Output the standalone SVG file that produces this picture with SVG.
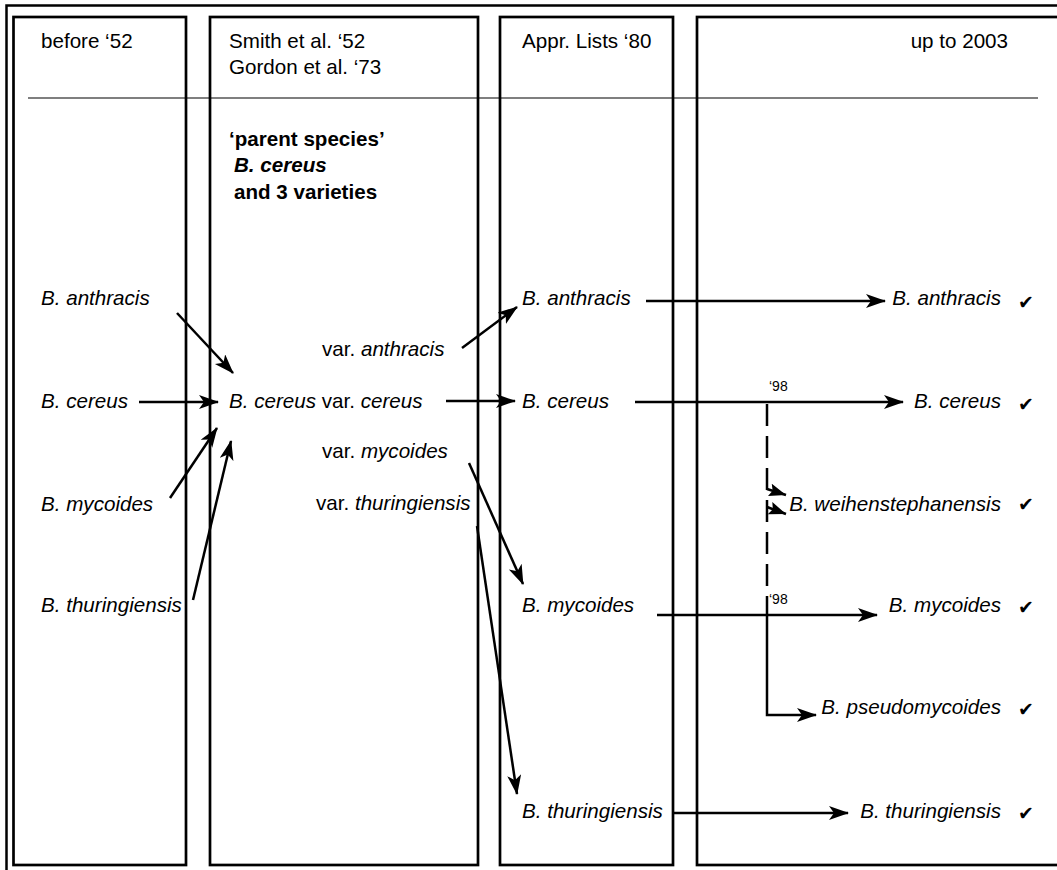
<svg xmlns="http://www.w3.org/2000/svg" width="1057" height="870" viewBox="0 0 1057 870">
<style>
text{font-family:"Liberation Sans",Arial,sans-serif;font-size:20.6px;fill:#000}
.i{font-style:italic}
.b{font-weight:bold}
.sm{font-size:14px}
.ck{font-family:"DejaVu Sans",sans-serif;font-size:19px}
.col{fill:none;stroke:#000;stroke-width:2.7}
.ln{fill:none;stroke:#000;stroke-width:2.5}
</style>
<defs>
<marker id="ah" markerUnits="userSpaceOnUse" markerWidth="21" markerHeight="15" refX="19" refY="7" orient="auto" viewBox="0 0 21 15">
<path d="M0,0 L20,7 L0,14 L5,7 z" fill="#000"/>
</marker>
<marker id="ahs" markerUnits="userSpaceOnUse" markerWidth="18" markerHeight="14" refX="17" refY="6.5" orient="auto" viewBox="0 0 18 14">
<path d="M0,0 L17,6.5 L0,13 L3,6.5 z" fill="#000"/>
</marker>
</defs>
<rect width="1057" height="870" fill="#fff"/>
<g id="frame">
<path d="M6.5,872 V5.5 H1060" fill="none" stroke="#000" stroke-width="2.5"/>
<rect class="col" x="13.5" y="17" width="172.5" height="848"/>
<rect class="col" x="210" y="17" width="268" height="848"/>
<rect class="col" x="500" y="17" width="173" height="848"/>
<rect class="col" x="697" y="17" width="400" height="848"/>
<line x1="28" y1="98" x2="1038" y2="98" stroke="#000" stroke-width="1.2"/>
</g>
<g id="headers">
<text x="41" y="48">before ‘52</text>
<text x="229" y="48">Smith et al. ‘52</text>
<text x="229" y="74">Gordon et al. ‘73</text>
<text x="522" y="48">Appr. Lists ‘80</text>
<text x="1008" y="48" text-anchor="end">up to 2003</text>
</g>
<g id="parent">
<text class="b" x="229" y="146">‘parent species’</text>
<text class="b i" x="234" y="172">B. cereus</text>
<text class="b" x="234" y="199">and 3 varieties</text>
</g>
<g id="col1">
<text id="l-anthracis" class="i" x="41" y="305">B. anthracis</text>
<text id="l-cereus" class="i" x="41" y="408">B. cereus</text>
<text id="l-mycoides" class="i" x="41" y="511">B. mycoides</text>
<text id="l-thuringiensis" class="i" x="41" y="612">B. thuringiensis</text>
</g>
<g id="col2">
<text id="m-cereus" x="229" y="408"><tspan class="i">B. cereus</tspan> var. <tspan class="i">cereus</tspan></text>
<text id="m-anthracis" x="322" y="356">var. <tspan class="i">anthracis</tspan></text>
<text id="m-mycoides" x="322" y="458">var. <tspan class="i">mycoides</tspan></text>
<text id="m-thuringiensis" x="316" y="510">var. <tspan class="i">thuringiensis</tspan></text>
</g>
<g id="col3">
<text id="a-anthracis" class="i" x="522" y="305">B. anthracis</text>
<text id="a-cereus" class="i" x="522" y="408">B. cereus</text>
<text id="a-mycoides" class="i" x="522" y="612">B. mycoides</text>
<text id="a-thuringiensis" class="i" x="522" y="818">B. thuringiensis</text>
</g>
<g id="col4">
<text id="n-anthracis" class="i" x="1001" y="305" text-anchor="end">B. anthracis</text>
<text id="n-cereus" class="i" x="1001" y="408" text-anchor="end">B. cereus</text>
<text id="n-weihen" class="i" x="1001" y="511" text-anchor="end">B. weihenstephanensis</text>
<text id="n-mycoides" class="i" x="1001" y="612" text-anchor="end">B. mycoides</text>
<text id="n-pseudo" class="i" x="1001" y="714" text-anchor="end">B. pseudomycoides</text>
<text id="n-thuringiensis" class="i" x="1001" y="818" text-anchor="end">B. thuringiensis</text>
<text class="ck" x="1018" y="309">✔</text>
<text class="ck" x="1018" y="411">✔</text>
<text class="ck" x="1018" y="511">✔</text>
<text class="ck" x="1018" y="614">✔</text>
<text class="ck" x="1018" y="716">✔</text>
<text class="ck" x="1018" y="820">✔</text>
<text class="sm" x="769" y="391">‘98</text>
<text class="sm" x="769" y="604">‘98</text>
</g>
<g id="connectors">
<line class="ln" x1="177" y1="313" x2="233" y2="373" marker-end="url(#ah)"/>
<line class="ln" x1="139" y1="402" x2="218" y2="402" marker-end="url(#ah)"/>
<line class="ln" x1="170" y1="498" x2="217" y2="428" marker-end="url(#ah)"/>
<line class="ln" x1="193" y1="600" x2="231" y2="441" marker-end="url(#ah)"/>
<line class="ln" x1="462" y1="348" x2="517" y2="307" marker-end="url(#ah)"/>
<line class="ln" x1="446" y1="401" x2="515" y2="401" marker-end="url(#ah)"/>
<line class="ln" x1="469" y1="463" x2="523" y2="584" marker-end="url(#ah)"/>
<line class="ln" x1="477" y1="526" x2="517" y2="794" marker-end="url(#ah)"/>
<line class="ln" x1="646" y1="301" x2="885" y2="301" marker-end="url(#ah)"/>
<line class="ln" x1="635" y1="402" x2="903" y2="402" marker-end="url(#ah)"/>
<line class="ln" x1="657" y1="615" x2="877" y2="615" marker-end="url(#ah)"/>
<line class="ln" x1="674" y1="813" x2="848" y2="813" marker-end="url(#ah)"/>
<line class="ln" x1="767" y1="404" x2="767" y2="588" stroke-dasharray="22 10"/>
<line class="ln" x1="767" y1="489" x2="786" y2="495" marker-end="url(#ahs)"/>
<line class="ln" x1="767" y1="507" x2="786" y2="514" marker-end="url(#ahs)"/>
<path class="ln" d="M767,596 V715 H816" marker-end="url(#ah)"/>
</g>
</svg>
